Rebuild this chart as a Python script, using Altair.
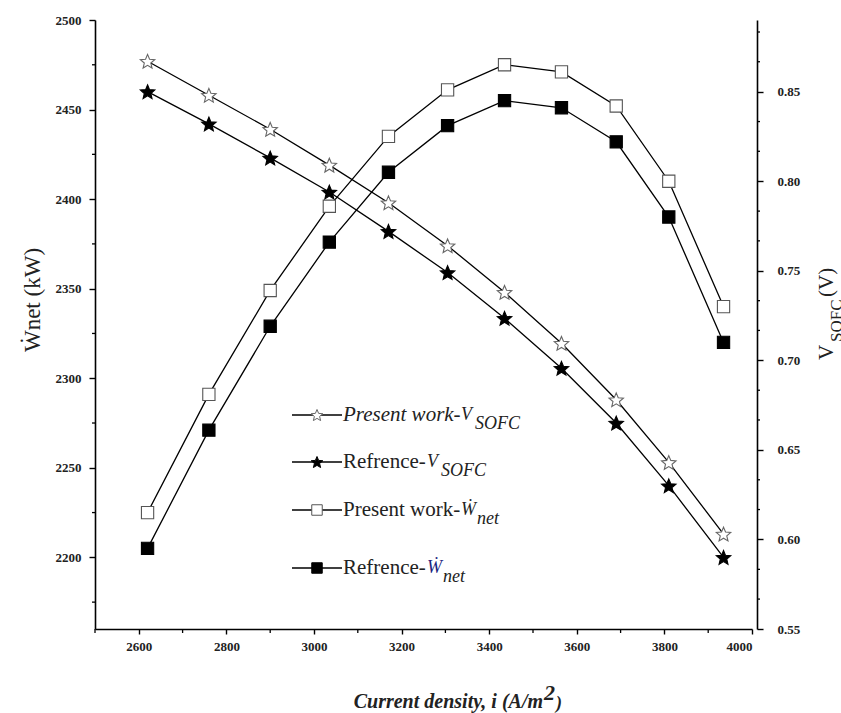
import math
import altair as alt
import pandas as pd

# ---- data -------------------------------------------------------------
current = [2620, 2760, 2900, 3035, 3170, 3305, 3435, 3565, 3690, 3810, 3935]
w_present = [2225, 2291, 2349, 2396, 2435, 2461, 2475, 2471, 2452, 2410, 2340]
w_ref = [2205, 2271, 2329, 2376, 2415, 2441, 2455, 2451, 2432, 2390, 2320]
v_present = [0.867, 0.848, 0.829, 0.809, 0.788, 0.764, 0.738, 0.7095, 0.678, 0.643, 0.603]
v_ref = [0.850, 0.832, 0.813, 0.794, 0.772, 0.749, 0.7235, 0.6956, 0.665, 0.630, 0.590]

x_major = [2600, 2800, 3000, 3200, 3400, 3600, 3800, 4000]
x_minor = [2500, 2700, 2900, 3100, 3300, 3500, 3700, 3900]
w_major = [2200, 2250, 2300, 2350, 2400, 2450, 2500]
w_minor = [2175, 2225, 2275, 2325, 2375, 2425, 2475]
v_major = [0.55, 0.60, 0.65, 0.70, 0.75, 0.80, 0.85]
v_minor = [0.5667, 0.5833, 0.6167, 0.6333, 0.6667, 0.6833, 0.7167, 0.7333,
           0.7667, 0.7833, 0.8167, 0.8333, 0.8667, 0.8833]

legend_prefix = ["Present work-", "Refrence-", "Present work-", "Refrence-"]
legend_symbol = ["V", "V", "Ẇ", "Ẇ"]
legend_sub = ["SOFC", "SOFC", "net", "net"]

# ---- layout -----------------------------------------------------------
W, H = 657, 609
FONT = "Liberation Serif"


def star_path(inner=0.45):
    pts = []
    for k in range(10):
        r = 1.0 if k % 2 == 0 else inner
        a = -math.pi / 2 + k * math.pi / 5
        pts.append(f"{r * math.cos(a):.3f},{r * math.sin(a) + 0.1:.3f}")
    return "M" + "L".join(pts) + "Z"


STAR = star_path()

df = pd.DataFrame({
    "i": current,
    "w_present": w_present,
    "w_ref": w_ref,
    "v_present": v_present,
    "v_ref": v_ref,
})

x_scale = alt.Scale(domain=[2500, 4000], nice=False, zero=False)
w_scale = alt.Scale(domain=[2160, 2500], nice=False, zero=False)
v_scale = alt.Scale(domain=[0.55, 0.89], nice=False, zero=False)

axis_common = dict(
    domainColor="black", domainWidth=1.6, tickColor="black", tickWidth=1.4,
    labelFont=FONT, labelFontWeight="bold", labelFontSize=13, labelColor="#222",
    grid=False, title=None, labelOverlap=False,
)

x_axis = alt.Axis(values=x_major, format="d", tickSize=5, labelPadding=6,
                  orient="bottom", **axis_common)
w_axis = alt.Axis(values=w_major, format="d", orient="left", tickSize=6,
                  labelPadding=8, **axis_common)
v_axis = alt.Axis(values=v_major, format=".2f", orient="right", tickSize=6,
                  offset=5, labelPadding=14, **axis_common)


def xq(field="i"):
    return alt.X(f"{field}:Q", scale=x_scale, axis=x_axis)


def wq(field):
    return alt.Y(f"{field}:Q", scale=w_scale, axis=w_axis)


def vq(field):
    return alt.Y(f"{field}:Q", scale=v_scale, axis=v_axis)


base = alt.Chart(df)


def series(y_enc, shape, fill, stroke, size):
    line = base.mark_line(color="black", strokeWidth=1.3).encode(x=xq(), y=y_enc)
    pts = base.mark_point(shape=shape, filled=True, fill=fill, stroke=stroke,
                          strokeWidth=1.1, size=size, opacity=1).encode(x=xq(), y=y_enc)
    return line + pts


# minor ticks, drawn just outside each axis line
w_minor_ticks = alt.Chart(pd.DataFrame({"w": w_minor})).mark_rule(
    color="black", strokeWidth=1.3).encode(y=wq("w"), x=alt.value(-3), x2=alt.value(0))
v_minor_ticks = alt.Chart(pd.DataFrame({"v": v_minor})).mark_rule(
    color="black", strokeWidth=1.3).encode(y=vq("v"), x=alt.value(W + 5), x2=alt.value(W + 8))
x_minor_ticks = alt.Chart(pd.DataFrame({"i": x_minor})).mark_rule(
    color="black", strokeWidth=1.3).encode(x=xq(), y=alt.value(H), y2=alt.value(H + 4))

left = alt.layer(
    series(wq("w_present"), "square", "white", "#555", 150),
    series(wq("w_ref"), "square", "black", "black", 150),
    w_minor_ticks,
)
right = alt.layer(
    series(vq("v_present"), STAR, "white", "#666", 230),
    series(vq("v_ref"), STAR, "black", "black", 230),
    v_minor_ticks,
)

# ---- legend (drawn inside the plot) ------------------------------------
leg_x0 = 197          # start of the short line left of each symbol
leg_rows = [395, 442, 490, 548]
leg_df = pd.DataFrame({
    "prefix": legend_prefix, "sym": legend_symbol, "sub": legend_sub,
})
prefix_w = [118, 84, 118, 84]
leg_layers = []
for k, r in enumerate(leg_rows):
    row = alt.Chart(leg_df.iloc[[k]])
    leg_layers.append(row.mark_rule(color="black", strokeWidth=1.3).encode(
        x=alt.value(leg_x0), x2=alt.value(leg_x0 + 50), y=alt.value(r), y2=alt.value(r)))
    if k < 2:
        mk = row.mark_point(shape=STAR, filled=True, fill="white" if k == 0 else "black",
                            stroke="#666" if k == 0 else "black", strokeWidth=1.0,
                            size=150, opacity=1)
    else:
        mk = row.mark_point(shape="square", filled=True, fill="white" if k == 2 else "black",
                            stroke="#555" if k == 2 else "black", strokeWidth=1.0,
                            size=110, opacity=1)
    leg_layers.append(mk.encode(x=alt.value(leg_x0 + 25), y=alt.value(r)))
    leg_layers.append(row.mark_text(align="left", baseline="middle", font=FONT,
                                    fontSize=21, fontStyle="italic" if k == 0 else "normal",
                                    color="#222").encode(
        x=alt.value(leg_x0 + 51), y=alt.value(r), text="prefix:N"))
    px = prefix_w[k]
    leg_layers.append(row.mark_text(align="left", baseline="middle", font=FONT,
                                    fontSize=18, fontStyle="italic",
                                    color="#222" if k < 3 else "#1a237e").encode(
        x=alt.value(leg_x0 + 51 + px), y=alt.value(r), text="sym:N"))
    leg_layers.append(row.mark_text(align="left", baseline="middle", font=FONT,
                                    fontSize=18, fontStyle="italic", color="#222").encode(
        x=alt.value(leg_x0 + 51 + px + (14 if k < 2 else 16)), y=alt.value(r + 9),
        text="sub:N"))

# ---- axis titles -------------------------------------------------------
title_df = pd.DataFrame({"t": ["Ẇnet (kW)"]})
left_title = alt.Chart(title_df).mark_text(
    font=FONT, fontSize=23, angle=270, color="#222", baseline="middle", align="center"
).encode(x=alt.value(-62), y=alt.value(280), text="t:N")

rt_df = pd.DataFrame({"a": ["V"], "b": ["SOFC"], "c": ["(V)"]})
rt = alt.Chart(rt_df)
right_title = alt.layer(
    rt.mark_text(font=FONT, fontSize=21, angle=270, color="#222", align="left",
                 baseline="middle").encode(x=alt.value(W + 75), y=alt.value(340), text="a:N"),
    rt.mark_text(font=FONT, fontSize=17, angle=270, color="#222", align="left",
                 baseline="middle").encode(x=alt.value(W + 85), y=alt.value(322), text="b:N"),
    rt.mark_text(font=FONT, fontSize=21, angle=270, color="#222", align="left",
                 baseline="middle").encode(x=alt.value(W + 75), y=alt.value(277), text="c:N"),
)

xt_df = pd.DataFrame({"a": ["Current density, i (A/m"], "b": ["2"], "c": [")"]})
xt = alt.Chart(xt_df)
x_title = alt.layer(
    xt.mark_text(font=FONT, fontSize=20, fontStyle="italic", fontWeight="bold",
                 color="#222", align="right", baseline="alphabetic").encode(
        x=alt.value(448), y=alt.value(H + 79), text="a:N"),
    xt.mark_text(font=FONT, fontSize=22, fontStyle="italic", fontWeight="bold",
                 color="#222", align="left", baseline="alphabetic").encode(
        x=alt.value(449), y=alt.value(H + 71), text="b:N"),
    xt.mark_text(font=FONT, fontSize=18, fontStyle="italic", fontWeight="bold",
                 color="#222", align="left", baseline="alphabetic").encode(
        x=alt.value(461), y=alt.value(H + 80), text="c:N"),
)

chart = alt.layer(
    left, right, x_minor_ticks, *leg_layers, left_title, right_title, x_title
).resolve_scale(y="independent").properties(
    width=W, height=H,
    padding={"left": 95, "top": 20, "right": 89, "bottom": 84},
    autosize=alt.AutoSizeParams(type="none"),
    background="white",
).configure_view(stroke=None)

chart.save("out.html", embed_options={"renderer": "svg", "actions": False})
